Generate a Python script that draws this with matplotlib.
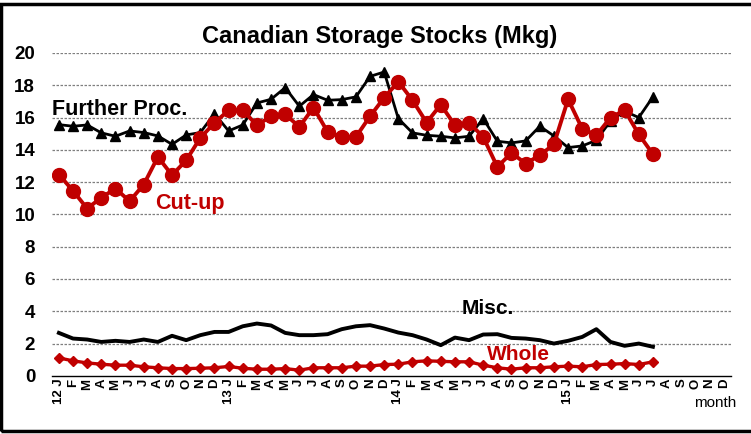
import matplotlib
matplotlib.use('Agg')
from matplotlib import pyplot as plt
from matplotlib.patches import Rectangle

plt.rcParams['font.family'] = ['Liberation Sans', 'DejaVu Sans']

# months Jan 2012 .. Dec 2015
month_letters = ['J', 'F', 'M', 'A', 'M', 'J', 'J', 'A', 'S', 'O', 'N', 'D']
years = ['12', '13', '14', '15']
tick_labels = []
for y in years:
    for i, m in enumerate(month_letters):
        if i == 0:
            tick_labels.append(y + ' ' + m)
        else:
            tick_labels.append(m)

# stocks in million kg, Jan 2012 .. Jul 2015
further_proc = [15.56, 15.46, 15.54, 15.05, 14.84, 15.17, 15.07, 14.86, 14.34, 14.92,
                15.07, 16.24, 15.17, 15.54, 16.9, 17.13, 17.85, 16.7, 17.42, 17.07,
                17.11, 17.28, 18.55, 18.82, 15.93, 15.05, 14.9, 14.84, 14.74, 14.84,
                15.93, 14.53, 14.43, 14.55, 15.46, 14.86, 14.14, 14.24, 14.59, 15.79,
                16.39, 16.0, 17.28]
cut_up = [12.47, 11.46, 10.36, 11.04, 11.6, 10.82, 11.85, 13.56, 12.43, 13.35,
          14.74, 15.67, 16.45, 16.45, 15.52, 16.08, 16.2, 15.42, 16.62, 15.11,
          14.8, 14.8, 16.08, 17.23, 18.22, 17.07, 15.69, 16.8, 15.52, 15.67,
          14.8, 12.94, 13.81, 13.15, 13.66, 14.34, 17.13, 15.31, 14.9, 16.0,
          16.45, 14.96, 13.73]
misc = [2.66, 2.31, 2.25, 2.1, 2.17, 2.1, 2.25, 2.1, 2.48, 2.21,
        2.52, 2.72, 2.72, 3.07, 3.24, 3.12, 2.66, 2.52, 2.52, 2.58,
        2.89, 3.07, 3.14, 2.93, 2.68, 2.52, 2.25, 1.9, 2.37, 2.21,
        2.56, 2.58, 2.35, 2.31, 2.21, 2.0, 2.17, 2.41, 2.89, 2.1,
        1.86, 2.0, 1.8]
whole = [1.11, 0.93, 0.8, 0.72, 0.66, 0.66, 0.56, 0.5, 0.45, 0.45,
         0.47, 0.5, 0.58, 0.47, 0.41, 0.41, 0.45, 0.35, 0.5, 0.5,
         0.5, 0.6, 0.6, 0.7, 0.72, 0.87, 0.93, 0.9, 0.87, 0.87,
         0.66, 0.5, 0.41, 0.5, 0.5, 0.56, 0.6, 0.56, 0.7, 0.72,
         0.76, 0.7, 0.87]

red = '#C00000'

fig = plt.figure(figsize=(7.51, 4.34), dpi=100)
ax = fig.add_axes([0.069, 0.134, 0.904, 0.744])

x = list(range(len(further_proc)))

ax.plot(x, misc, color='black', lw=2.8, zorder=3)
ax.plot(x, whole, color=red, lw=2.4, marker='D', markersize=5, zorder=3)
ax.plot(x, further_proc, color='black', lw=2, marker='^', markersize=7, zorder=4)
ax.plot(x, cut_up, color=red, lw=2.8, marker='o', markersize=10, zorder=5)

ax.set_xlim(-0.5, len(tick_labels) - 0.5)
ax.set_ylim(0, 20)
ax.set_yticks(range(0, 21, 2))
ax.set_xticks(range(len(tick_labels)))
ax.set_xticklabels(tick_labels, rotation=90, va='top', ha='center',
                   fontsize=9.5, fontweight='bold')
for lbl in ax.get_yticklabels():
    lbl.set_fontsize(13.5)
    lbl.set_fontweight('bold')
ax.tick_params(axis='y', length=0, pad=12)
ax.tick_params(axis='x', length=0, pad=2)

# dotted grid lines
for v in range(2, 21, 2):
    ax.axhline(v, color='#7f7f7f', lw=0.9, ls=(0, (2, 1.2)), zorder=1)

for s in ['left', 'right', 'top']:
    ax.spines[s].set_visible(False)
ax.spines['bottom'].set_color('black')
ax.spines['bottom'].set_linewidth(1)

ax.text(-0.5, 16.47, 'Further Proc.', fontsize=15.5, fontweight='bold',
        color='black', va='center', ha='left', zorder=6)
ax.text(6.8, 10.7, 'Cut-up', fontsize=15.5, fontweight='bold',
        color=red, va='center', ha='left', zorder=6)
ax.text(28.5, 4.2, 'Misc.', fontsize=15, fontweight='bold',
        color='black', va='center', ha='left', zorder=6)
ax.text(30.3, 1.3, 'Whole', fontsize=15, fontweight='bold',
        color=red, va='center', ha='left', zorder=6)

fig.text(0.506, 0.917, 'Canadian Storage Stocks (Mkg)', fontsize=17,
         fontweight='bold', ha='center', va='center')
fig.text(0.952, 0.071, 'month', fontsize=11, ha='center', va='center')

# outer frame
fig.patches.append(Rectangle((0.001, 0.006), 1.2, 0.985, transform=fig.transFigure,
                             fill=False, ec='black', lw=2.5, zorder=10))

fig.savefig('out.png', dpi=100)
